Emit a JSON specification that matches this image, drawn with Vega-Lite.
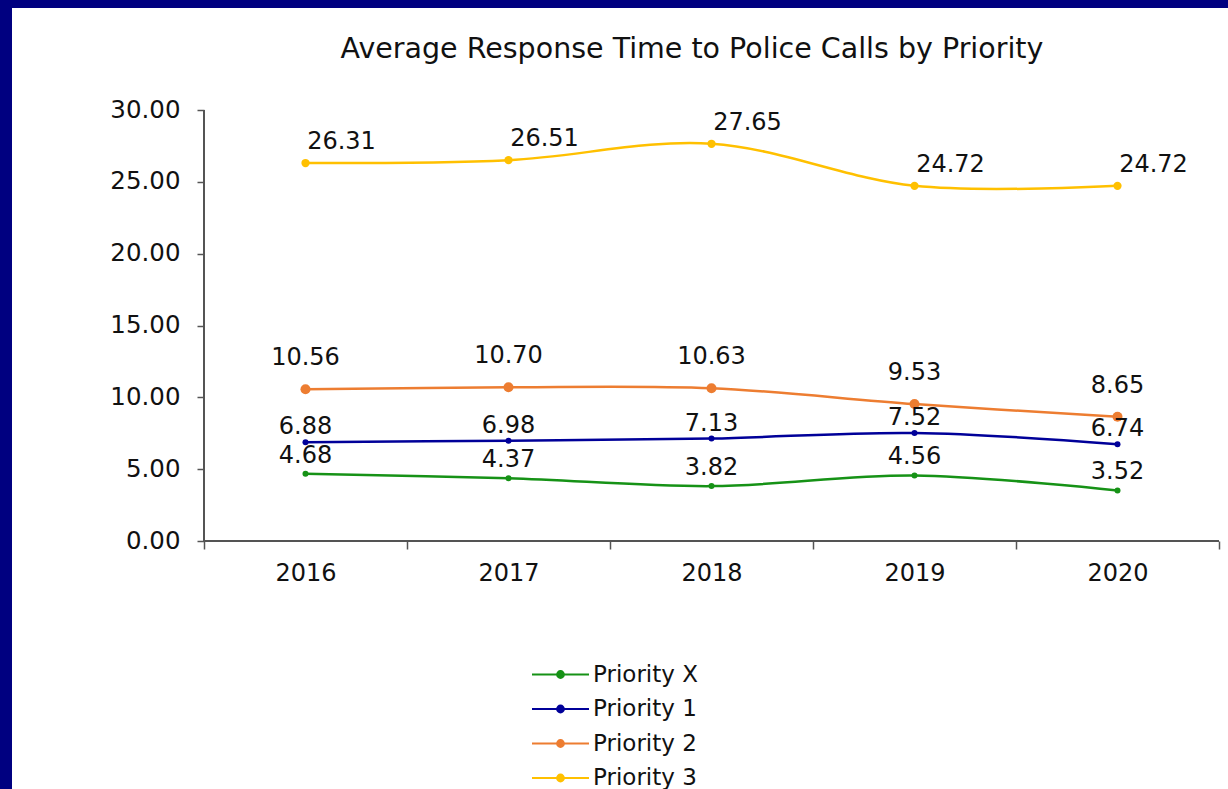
{
  "$schema": "https://vega.github.io/schema/vega-lite/v6.json",
  "width": 1216,
  "height": 781,
  "autosize": {"type": "none"},
  "padding": {"left": 12, "top": 8, "right": 0, "bottom": 0},
  "background": "#000080",
  "config": {
    "view": {"fill": "white", "stroke": null},
    "font": "DejaVu Sans"
  },
  "title": {
    "text": "Average Response Time to Police Calls by Priority",
    "font": "DejaVu Sans",
    "fontSize": 28.5,
    "fontWeight": "normal",
    "color": "#111111",
    "anchor": "middle",
    "dx": 72,
    "baseline": "alphabetic",
    "offset": -78
  },
  "data": {
    "values": [
      {"year": "2016", "series": "Priority X", "value": 4.68},
      {"year": "2017", "series": "Priority X", "value": 4.37},
      {"year": "2018", "series": "Priority X", "value": 3.82},
      {"year": "2019", "series": "Priority X", "value": 4.56},
      {"year": "2020", "series": "Priority X", "value": 3.52},
      {"year": "2016", "series": "Priority 1", "value": 6.88},
      {"year": "2017", "series": "Priority 1", "value": 6.98},
      {"year": "2018", "series": "Priority 1", "value": 7.13},
      {"year": "2019", "series": "Priority 1", "value": 7.52},
      {"year": "2020", "series": "Priority 1", "value": 6.74},
      {"year": "2016", "series": "Priority 2", "value": 10.56},
      {"year": "2017", "series": "Priority 2", "value": 10.70},
      {"year": "2018", "series": "Priority 2", "value": 10.63},
      {"year": "2019", "series": "Priority 2", "value": 9.53},
      {"year": "2020", "series": "Priority 2", "value": 8.65},
      {"year": "2016", "series": "Priority 3", "value": 26.31},
      {"year": "2017", "series": "Priority 3", "value": 26.51},
      {"year": "2018", "series": "Priority 3", "value": 27.65},
      {"year": "2019", "series": "Priority 3", "value": 24.72},
      {"year": "2020", "series": "Priority 3", "value": 24.72}
    ]
  },
  "encoding": {
    "x": {
      "field": "year",
      "type": "ordinal",
      "scale": {"type": "band", "paddingInner": 0, "paddingOuter": 0.49507, "align": 0.9552},
      "axis": {
        "title": null,
        "labelAngle": 0,
        "tickBand": "extent",
        "offset": -248,
        "domain": false,
        "ticks": true,
        "tickSize": 8,
        "tickColor": "#555555",
        "tickWidth": 1.5,
        "labelFont": "DejaVu Sans",
        "labelFontSize": 24,
        "labelColor": "#111111",
        "labelPadding": 12,
        "grid": false
      }
    },
    "y": {
      "field": "value",
      "type": "quantitative",
      "scale": {"domain": [-17.262, 37.1], "nice": false, "zero": false},
      "axis": {
        "title": null,
        "values": [0, 5, 10, 15, 20, 25, 30],
        "format": ".2f",
        "offset": -192,
        "domain": false,
        "ticks": true,
        "tickSize": 7,
        "tickColor": "#555555",
        "tickWidth": 1.5,
        "labelFont": "DejaVu Sans",
        "labelFontSize": 24.5,
        "labelColor": "#111111",
        "labelPadding": 17,
        "grid": false
      }
    },
    "color": {
      "field": "series",
      "type": "nominal",
      "scale": {
        "domain": ["Priority X", "Priority 1", "Priority 2", "Priority 3"],
        "range": ["#169216", "#000099", "#ED7D31", "#FFC000"]
      }
    }
  },
  "layer": [
    {
      "mark": {"type": "rule", "color": "#555555", "strokeWidth": 1.5},
      "encoding": {
        "x": {"datum": "2016", "bandPosition": 0},
        "x2": {"datum": "2020", "bandPosition": 1},
        "y": {"datum": 0},
        "color": null
      }
    },
    {
      "mark": {"type": "rule", "color": "#555555", "strokeWidth": 1.5},
      "encoding": {
        "x": {"datum": "2016", "bandPosition": 0},
        "y": {"datum": 0},
        "y2": {"datum": 30},
        "color": null
      }
    },
    {
      "mark": {"type": "line", "interpolate": "cardinal", "strokeWidth": 2.5},
      "encoding": {
        "color": {
          "field": "series",
          "type": "nominal",
          "legend": {
            "title": null,
            "orient": "none",
            "legendX": 537,
            "legendY": 655,
            "direction": "vertical",
            "padding": 0,
            "symbolType": "M-2.85,0H2.85M-0.33,0A0.33,0.33,0,1,1,0.33,0A0.33,0.33,0,1,1,-0.33,0Z",
            "symbolSize": 400,
            "symbolStrokeWidth": 2.2,
            "labelFont": "DejaVu Sans",
            "labelFontSize": 23,
            "labelColor": "#111111",
            "labelOffset": 21,
            "rowPadding": 10.5,
            "encode": {
              "symbols": {
                "update": {
                  "fill": {"scale": "color", "field": "value"},
                  "stroke": {"scale": "color", "field": "value"},
                  "size": {"value": 400},
                  "opacity": {"value": 1}
                }
              }
            }
          }
        }
      }
    },
    {
      "transform": [{"filter": "datum.series === 'Priority X' || datum.series === 'Priority 1'"}],
      "mark": {"type": "point", "filled": true, "opacity": 1, "size": 36}
    },
    {
      "transform": [{"filter": "datum.series === 'Priority 2'"}],
      "mark": {"type": "point", "filled": true, "opacity": 1, "size": 100}
    },
    {
      "transform": [{"filter": "datum.series === 'Priority 3'"}],
      "mark": {"type": "point", "filled": true, "opacity": 1, "size": 68}
    },
    {
      "transform": [{"filter": "datum.series === 'Priority 3'"}],
      "mark": {"type": "text", "font": "DejaVu Sans", "fontSize": 24, "color": "#111111", "dx": 36, "dy": -21, "baseline": "middle"},
      "encoding": {"text": {"field": "value", "type": "quantitative", "format": ".2f"}, "color": null}
    },
    {
      "transform": [{"filter": "datum.series === 'Priority 2'"}],
      "mark": {"type": "text", "font": "DejaVu Sans", "fontSize": 24, "color": "#111111", "dy": -31, "baseline": "middle"},
      "encoding": {"text": {"field": "value", "type": "quantitative", "format": ".2f"}, "color": null}
    },
    {
      "transform": [{"filter": "datum.series === 'Priority 1'"}],
      "mark": {"type": "text", "font": "DejaVu Sans", "fontSize": 24, "color": "#111111", "dy": -15, "baseline": "middle"},
      "encoding": {"text": {"field": "value", "type": "quantitative", "format": ".2f"}, "color": null}
    },
    {
      "transform": [{"filter": "datum.series === 'Priority X'"}],
      "mark": {"type": "text", "font": "DejaVu Sans", "fontSize": 24, "color": "#111111", "dy": -18, "baseline": "middle"},
      "encoding": {"text": {"field": "value", "type": "quantitative", "format": ".2f"}, "color": null}
    }
  ]
}
